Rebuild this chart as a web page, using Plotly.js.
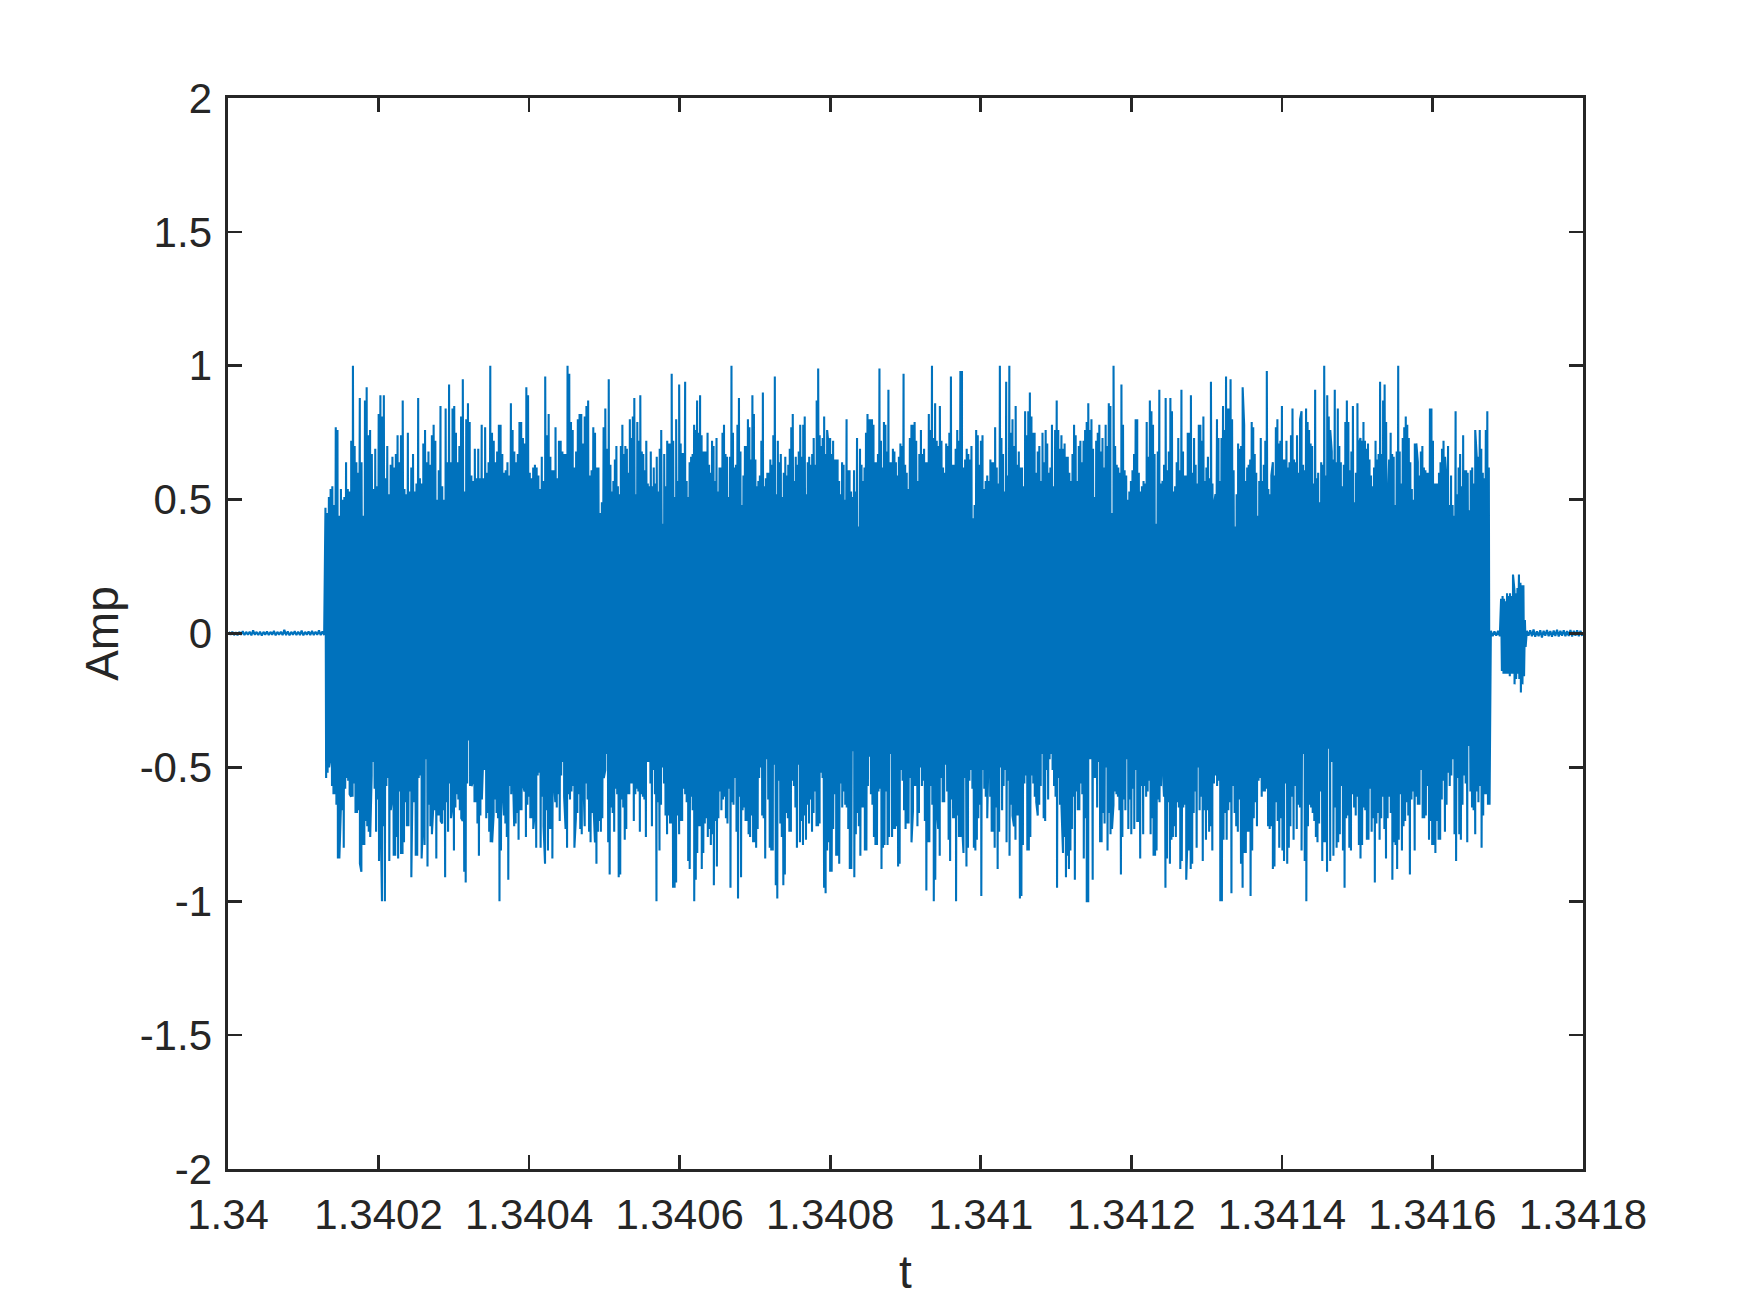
<!DOCTYPE html>
<html><head><meta charset="utf-8">
<script src="https://cdn.plot.ly/plotly-3.0.1.min.js"></script>
<style>html,body{margin:0;padding:0;background:#fff}</style>
</head><body><div id="chart" style="width:1750px;height:1313px"></div>
<script>
// ---- tick labels ----
const X_TICKS = [1.34, 1.3402, 1.3404, 1.3406, 1.3408, 1.341, 1.3412, 1.3414, 1.3416, 1.3418];
const X_TICK_LABELS = ["1.34", "1.3402", "1.3404", "1.3406", "1.3408", "1.341", "1.3412", "1.3414", "1.3416", "1.3418"];
const Y_TICKS = [-2, -1.5, -1, -0.5, 0, 0.5, 1, 1.5, 2];
const Y_TICK_LABELS = ["-2", "-1.5", "-1", "-0.5", "0", "0.5", "1", "1.5", "2"];

// ---- time marks (s) ----
const SEGMENT_TIMES = [1.3401289, 1.3405075, 1.3408927, 1.3412912, 1.3416764];
const BURST_TIMES = [1.3416907, 1.3417243];
const X_START = 1.34, X_END = 1.3418;

// ---- upper peaks of the main pulse, per segment ----
const PEAKS_UP_1 = [.47,.45,.51,.54,.55,.48,.77,.76,.44,.54,.50,.51,.64,.54,.53,.72,1.0,.70,.64,.60,.88,.64,.44,.87,.92,.74,.76,.67,.54,.69,.55,.82,.89,.81,.89,.58,.70,.52,.63,.66,.62,.67,.74,.64,.74,.87,.54,.52,.75,.53,.62,.67,.53,.56,.88,.58,.56,.71,.76,.64,.68,.63,.74,.78,.72,.50,.61,.85,.55,.50,.84,.64,.93,.64,.84,.85,.75,.64,.70,.81,.95,.53,.80,.86,.79,.59,.57,.69,.58,.69,.58,.78,.58,.77,.60,.64,1.0,.75,.72,.64,.68,.78,.78,.67,.60,.61,.64,.59,.86,.76,.68,.64,.67,.79,.79,.73,.71,.92,.89,.60,.58,.62,.63,.62,.59,.54,.66,.57,.96,.74,.82,.66,.61,.61,.77,.58,.72,.72,.68,.67,.67,1.0,.97,.79,.76,.62,.68,.80,.82,.82,.71,.81,.85,.87,.59,.61,.77,.75,.62,.62,.45,.49,.77,.84,.69,.95];
const PEAKS_UP_2 = [.63,.53,.57,.65,.70,.55,.52,.70,.78,.67,.70,.69,.60,.80,.73,.81,.88,.52,.79,.72,.89,.68,.67,.61,.72,.56,.55,.68,.55,.62,.56,.66,.53,.69,.76,.41,.67,.55,.72,.71,.71,.97,.72,.51,.80,.57,.93,.71,.67,.67,.94,.57,.51,.64,.66,.67,.78,.76,.87,.75,.89,.74,.68,.68,.68,.75,.63,.60,.72,.70,.57,.73,.53,.62,.62,.75,.78,.67,.66,.51,.66,1.0,.75,.62,.63,.78,.88,.68,.48,.59,.70,.70,.80,.77,.65,.89,.82,.65,.55,.57,.59,.72,.90,.55,.58,.60,.60,.65,.63,.74,.96,.52,.72,.64,.67,.51,.60,.66,.59,.63,.69,.77,.82,.57,.66,.63,.68,.78,.66,.78,.81,.52,.64,.66,.63,.67,.73,.63,.87,.99,.74,.70,.73,.81,.67,.76,.70,.73,.67,.72,.65,.65,.65,.57,.52,.64,.63,.50,.80,.61,.61,.53,.51,.61,.53,.73,.40,.69,.63,.57,.62,.75,.82,.80,.80,.80,.78,.64,.64,.67,.99,.72,.62,.79,.78,.68,.91,.64,.64,.69,.68,.64,.59,.66];
const PEAKS_UP_3 = [.71,.70,.97,.63,.60,.54,.73,.78,.78,.79,.72,.57,.67,.76,.67,.69,.64,.64,.82,.76,1.0,.73,.86,.72,.70,.85,.72,.62,.60,.71,.70,.75,.96,.63,.63,.69,.76,.72,.98,.98,.62,.65,.69,.67,.65,.70,.43,.48,.76,.74,.63,.72,.74,.54,.57,.59,.57,.65,.64,.64,.77,.62,.56,1.0,.73,.67,.53,.94,.59,1.0,.75,.80,.70,.85,.63,.68,.62,.62,.55,.83,.74,.83,.90,.81,.75,.75,.60,.68,.70,.57,.75,.64,.76,.71,.60,.62,.78,.55,.76,.87,.76,.69,.74,.69,.71,.66,.66,.60,.57,.67,.78,.74,.57,.70,.72,.64,.72,.76,.79,.86,.76,.80,.69,.51,.72,.75,.78,.68,.73,.62,.78,.70,.86,.85,.45,1.0,.70,.63,.62,.60,.93,.78,.61,.59,.50,.53,.57,.61,.67,.80,.80,.60,.53,.55,.57,.56,.79,.66,.87,.83,.78,.67,.41,.68,.91,.56,.57,.63,.88,.61,.68,.88,.83,.53,.55,.64,.73,.61,.91,.68,.59,.59,.75,.75,.89,.60,.73,.63,.56,.78];
const PEAKS_UP_4 = [.78,.72,.81,.57,.62,.66,.58,.94,.56,.48,.52,.80,.73,.57,.73,.85,.76,.96,.84,.84,.95,.80,.61,.40,.52,.71,.69,.70,.92,.78,.57,.62,.63,.65,.79,.77,.67,.60,.44,.57,.73,.57,.63,.72,.98,.54,.52,.59,.64,.59,.77,.80,.71,.72,.85,.65,.65,.72,.62,.64,.74,.84,.65,.64,.74,.60,.80,.83,.63,.61,.84,.79,.76,.71,.70,.56,.91,.58,.60,.49,.64,.63,1.0,.59,.89,.81,.76,.68,.65,.91,.64,.84,.70,.64,.55,.63,.79,.87,.79,.61,.68,.85,.49,.60,.86,.71,.73,.72,.79,.72,.69,.71,.65,.59,.55,.62,.72,.65,.67,.94,.67,.87,.93,.79,.46,.65,.75,.67,.66,.48,.68,1.0,.68,.56,.73,.77,.81,.78,.73,.64,.54,.50,.71,.71,.64,.59,.68,.70,.62,.61,.60,.60,.84,.84,.72,.56,.56,.56,.60,.64,.69,.72,.66,.57,.70,.48,.59,.48,.44,.83,.52,.62,.67,.55,.74,.61,.61,.60,.46,.61,.62,.56,.76,.66,.66,.76,.69,.60,.58,.76,.83,.62];

// ---- lower peaks of the main pulse, per segment ----
const PEAKS_LOW_1 = [-.54,-.52,-.50,-.46,-.57,-.60,-.60,-.64,-.84,-.84,-.66,-.66,-.80,-.58,-.54,-.55,-.60,-.61,-.61,-.56,-.67,-.67,-.66,-.86,-.89,-.79,-.79,-.70,-.72,-.74,-.76,-.53,-.48,-.58,-.74,-.62,-.85,-.63,-1.0,-.72,-1.0,-.57,-.54,-.85,-.66,-.61,-.83,-.83,-.76,-.84,-.59,-.82,-.82,-.78,-.63,-.72,-.72,-.59,-.91,-.47,-.63,-.83,-.83,-.54,-.53,-.84,-.69,-.79,-.47,-.87,-.64,-.72,-.75,-.64,-.66,-.84,-.68,-.68,-.70,-.71,-.66,-.91,-.63,-.74,-.56,-.69,-.64,-.81,-.65,-.60,-.62,-.66,-.69,-.70,-.89,-.93,-.56,-.40,-.57,-.57,-.55,-.63,-.63,-.71,-.83,-.68,-.62,-.45,-.51,-.69,-.67,-.74,-.78,-.78,-.68,-.62,-.67,-.69,-1.0,-.81,-.57,-.68,-.71,-.76,-.92,-.57,-.60,-.48,-.72,-.71,-.67,-.77,-.66,-.66,-.56,-.59,-.76,-.64,-.61,-.69,-.69,-.73,-.67,-.80,-.53,-.52,-.80,-.61,-.72,-.86,-.66,-.81,-.73,-.73,-.84,-.54,-.63,-.65,-.60,-.70,-.53,-.48,-.61,-.73,-.80,-.60,-.62,-.59,-.57,-.80,-.69,-.67,-.60,-.73,-.75,-.52,-.72,-.56,-.62,-.74,-.78,-.67,-.64,-.78,-.86,-.74,-.70,-.74,-.69,-.54,-.51,-.45,-.78,-.90];
const PEAKS_LOW_2 = [-.65,-.67,-.74,-.58,-.60,-.91,-.90,-.62,-.65,-.77,-.73,-.60,-.60,-.56,-.56,-.70,-.60,-.58,-.59,-.74,-.60,-.61,-.62,-.76,-.48,-.48,-.56,-.72,-.51,-.60,-1.0,-.63,-.81,-.64,-.50,-.56,-.68,-.75,-.68,-.71,-.71,-.95,-.95,-.93,-.68,-.75,-.70,-.70,-.58,-.60,-.63,-.85,-.88,-.61,-.66,-1.0,-.92,-.82,-.72,-.72,-.88,-.82,-.71,-.69,-.76,-.73,-.79,-.75,-.94,-.70,-.87,-.69,-.59,-.66,-.62,-.61,-.69,-.71,-.58,-.95,-.63,-.64,-.54,-.74,-.99,-.61,-.91,-.66,-.65,-.70,-.70,-.75,-.76,-.68,-.78,-.78,-.80,-.73,-.54,-.50,-.68,-.69,-.84,-.47,-.62,-.80,-.81,-.81,-.49,-.94,-.99,-.55,-.71,-.76,-.94,-.90,-.67,-.69,-.74,-.74,-.55,-.57,-.65,-.80,-.49,-.78,-.70,-.79,-.68,-.77,-.64,-.71,-.62,-.74,-.67,-.59,-.72,-.72,-.71,-.52,-.54,-.95,-.97,-.81,-.78,-.89,-.89,-.73,-.60,-.83,-.83,-.86,-.56,-.65,-.59,-.64,-.65,-.73,-.88,-.88,-.44,-.91,-.75,-.67,-.72,-.83,-.65,-.65,-.81,-.81,-.57,-.46,-.60,-.64,-.76,-.79,-.79,-.59,-.58,-.88,-.80,-.79,-.59,-.79,-.76,-.45,-.76,-.73,-.73,-.72,-.87,-.86];
const PEAKS_LOW_3 = [-.51,-.55,-.66,-.73,-.71,-.71,-.54,-.78,-.66,-.57,-.57,-.72,-.67,-.50,-.57,-.55,-.70,-.96,-.78,-.78,-.57,-.64,-1.0,-.92,-.65,-.73,-.83,-.54,-.63,-.63,-.49,-.59,-.77,-.85,-.62,-.69,-.69,-1.0,-.68,-.76,-.76,-.71,-.82,-.54,-.87,-.80,-.55,-.51,-.58,-.80,-.81,-.77,-.69,-.64,-.98,-.51,-.58,-.61,-.69,-.40,-.61,-.74,-.74,-.80,-.65,-.88,-.74,-.50,-.66,-.57,-.51,-.78,-.55,-.83,-.64,-.68,-.72,-.77,-.68,-.68,-.99,-.98,-.79,-.56,-.53,-.81,-.81,-.76,-.53,-.56,-.61,-.63,-.68,-.64,-.57,-.45,-.69,-.70,-.51,-.62,-.47,-.45,-.51,-.57,-.61,-.95,-.54,-.64,-.65,-.82,-.76,-.91,-.83,-.88,-.81,-.73,-.61,-.92,-.59,-.66,-.66,-.56,-.60,-.84,-.69,-1.0,-1.0,-.47,-.47,-.92,-.54,-.54,-.65,-.48,-.78,-.78,-.67,-.71,-.50,-.81,-.67,-.75,-.73,-.64,-.59,-.60,-.61,-.66,-.90,-.76,-.62,-.66,-.47,-.73,-.62,-.75,-.58,-.73,-.51,-.70,-.70,-.84,-.57,-.75,-.57,-.61,-.59,-.55,-.75,-.69,-.83,-.83,-.81,-.62,-.63,-.57,-.47,-.61,-.95,-.84,-.63,-.86,-.77,-.76,-.72,-.76,-.63,-.65,-.88,-.85,-.65,-.64,-.92,-.73,-.81,-.88,-.86,-.67,-.59,-.80,-.50,-.66];
const PEAKS_LOW_4 = [-.61,-.85,-.66,-.77,-.66,-.74,-.72,-.81,-.56,-.53,-.57,-.55,-1.0,-1.0,-.77,-.67,-.77,-.66,-.63,-.97,-.57,-.67,-.72,-.74,-.62,-.86,-.95,-.82,-.82,-.74,-.74,-.98,-.81,-.69,-.63,-.72,-.55,-.54,-.61,-.59,-.59,-.58,-.72,-.73,-.72,-.88,-.87,-.63,-.70,-.80,-.69,-.81,-.85,-.56,-.86,-.80,-.72,-.61,-.77,-.57,-.73,-.64,-.65,-.81,-.45,-.85,-1.0,-.72,-.64,-.65,-.67,-.70,-.76,-.78,-.71,-.59,-.85,-.78,-.78,-.89,-.43,-.85,-.48,-.83,-.65,-.80,-.78,-.75,-.57,-.81,-.95,-.69,-.68,-.80,-.81,-.60,-.65,-.68,-.61,-.79,-.84,-.79,-.65,-.66,-.77,-.77,-.58,-.74,-.69,-.93,-.71,-.67,-.77,-.69,-.61,-.73,-.84,-.69,-.61,-.67,-.92,-.78,-.79,-.88,-.77,-.60,-.81,-.72,-.70,-.63,-.68,-.90,-.62,-.59,-.81,-.61,-.64,-.64,-.51,-.69,-.69,-.68,-.57,-.77,-.70,-.79,-.79,-.82,-.70,-.77,-.77,-.62,-.55,-.74,-.64,-.52,-.57,-.53,-.47,-.75,-.85,-.54,-.75,-.77,-.64,-.53,-.56,-.78,-.42,-.59,-.65,-.66,-.75,-.59,-.63,-.57,-.80,-.68,-.60,-.60,-.64,-.64];

// ---- short echo burst after the pulse ----
const BURST_UP = [.13,.14,.13,.12,.15,.14,.15,.14,.22,.16,.15,.17,.22,.19,.18,.18,.05];
const BURST_LOW = [-.14,-.15,-.15,-.15,-.15,-.16,-.15,-.15,-.19,-.17,-.15,-.17,-.22,-.19,-.16,-.05];

// ---- quiet baseline (before, between, after) ----
const BASE_PRE = [0.006,-0.005,0.007,-0.006,0.005,-0.007,0.006,-0.005,0.009,-0.006,0.006,-0.005,0.007,-0.007,0.012,-0.005,0.006,-0.006,0.007,-0.008,0.006,-0.005,0.008,-0.006,0.006,-0.005,0.010,-0.007,0.006,-0.005,0.007,-0.006,0.014,-0.006,0.008,-0.007,0.006,-0.005,0.009,-0.006,0.007,-0.006,0.011,-0.007,0.006,-0.005,0.008,-0.006,0.010,-0.006,0.007,-0.005,0.012,-0.006,0.008,-0.006];
const BASE_GAP = [0.010,-0.010,0.008,-0.008,0.010,-0.010];
const BASE_POST = [0.010,-0.008,0.012,-0.010,0.015,-0.012,0.008,-0.010,0.012,-0.015,0.010,-0.008,0.013,-0.010,0.009,-0.012,0.011,-0.009,0.014,-0.011,0.010,-0.008,0.012,-0.010,0.009,-0.009,0.013,-0.011,0.010,-0.008,0.012,-0.010,0.010,-0.009];

// ---- assemble the signal trace from the arrays ----
const tx = [], ty = [];
function addBase(t0, t1, vals) {
  const n = vals.length;
  for (let i = 0; i < n; i++) { tx.push(t0 + (i + 0.5) * (t1 - t0) / n); ty.push(vals[i]); }
}
function addOsc(t0, t1, up, lo) {
  const pts = [];
  up.forEach((v, i) => pts.push([t0 + (i + 0.25) * (t1 - t0) / up.length, v]));
  lo.forEach((v, j) => pts.push([t0 + (j + 0.75) * (t1 - t0) / lo.length, v]));
  pts.sort((a, b) => a[0] - b[0]);
  pts.forEach(p => { tx.push(p[0]); ty.push(p[1]); });
}
addBase(X_START, SEGMENT_TIMES[0], BASE_PRE);
const UPS = [PEAKS_UP_1, PEAKS_UP_2, PEAKS_UP_3, PEAKS_UP_4];
const LOWS = [PEAKS_LOW_1, PEAKS_LOW_2, PEAKS_LOW_3, PEAKS_LOW_4];
for (let s = 0; s < 4; s++) addOsc(SEGMENT_TIMES[s], SEGMENT_TIMES[s + 1], UPS[s], LOWS[s]);
addBase(SEGMENT_TIMES[4], BURST_TIMES[0], BASE_GAP);
addOsc(BURST_TIMES[0], BURST_TIMES[1], BURST_UP, BURST_LOW);
addBase(BURST_TIMES[1], X_END, BASE_POST);

const FONT = '"Liberation Sans", Arial, Helvetica, sans-serif';
const INK = '#262626';
const axisCommon = {
  showgrid: false, zeroline: false, showline: true, linecolor: INK, linewidth: 2.6,
  mirror: 'ticks', ticks: 'inside', ticklen: 14, tickwidth: 2.6, tickcolor: INK,
  tickfont: { family: FONT, size: 42, color: INK }, automargin: false
};

const trace = {
  x: tx, y: ty, type: 'scatter', mode: 'lines',
  line: { color: '#0072BD', width: 2.1, simplify: false },
  hoverinfo: 'skip', showlegend: false
};

const layout = {
  width: 1750, height: 1313,
  margin: { l: 228, r: 167, t: 98, b: 144 },
  paper_bgcolor: '#ffffff', plot_bgcolor: '#ffffff',
  font: { family: FONT, color: INK },
  xaxis: Object.assign({}, axisCommon, {
    range: [X_START, X_END], tickmode: 'array', tickvals: X_TICKS, ticktext: X_TICK_LABELS,
    ticklabelstandoff: 7,
    title: { text: 't', font: { family: FONT, size: 46, color: INK }, standoff: 19 }
  }),
  yaxis: Object.assign({}, axisCommon, {
    range: [-2, 2], tickmode: 'array', tickvals: Y_TICKS, ticktext: Y_TICK_LABELS,
    ticklabelstandoff: 5,
    title: { text: 'Amp', font: { family: FONT, size: 46, color: INK }, standoff: 7 }
  })
};

Plotly.newPlot('chart', [trace], layout, { staticPlot: true, displayModeBar: false });
</script>
</body></html>
